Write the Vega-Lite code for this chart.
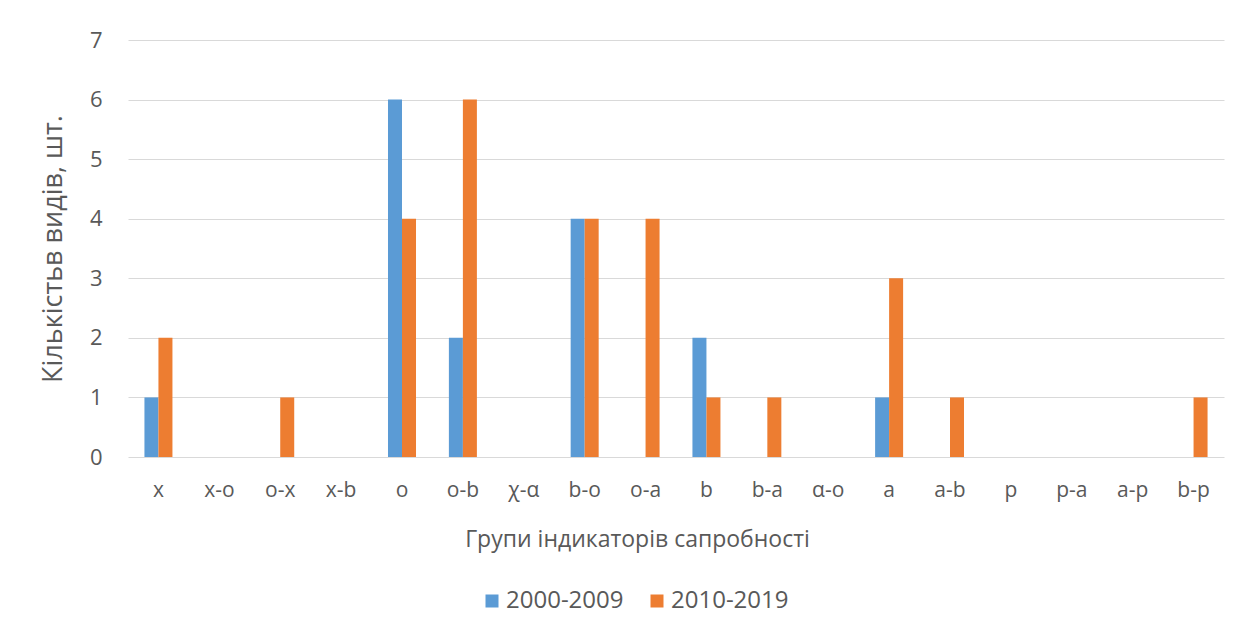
{
  "$schema": "https://vega.github.io/schema/vega-lite/v6.json",
  "width": 1096,
  "height": 417,
  "padding": {"left": 128, "top": 40, "right": 32, "bottom": 179},
  "autosize": {"type": "none"},
  "background": "white",
  "config": {
    "font": "Open Sans",
    "view": {"stroke": null},
    "axis": {"labelColor": "#595959", "titleColor": "#595959", "titleFontWeight": "normal"},
    "legend": {"labelColor": "#595959"}
  },
  "data": {
    "values": [
      {"group": "x", "period": "2000-2009", "count": 1},
      {"group": "x", "period": "2010-2019", "count": 2},
      {"group": "x-o", "period": "2000-2009", "count": 0},
      {"group": "x-o", "period": "2010-2019", "count": 0},
      {"group": "o-x", "period": "2000-2009", "count": 0},
      {"group": "o-x", "period": "2010-2019", "count": 1},
      {"group": "x-b", "period": "2000-2009", "count": 0},
      {"group": "x-b", "period": "2010-2019", "count": 0},
      {"group": "o", "period": "2000-2009", "count": 6},
      {"group": "o", "period": "2010-2019", "count": 4},
      {"group": "o-b", "period": "2000-2009", "count": 2},
      {"group": "o-b", "period": "2010-2019", "count": 6},
      {"group": "χ-α", "period": "2000-2009", "count": 0},
      {"group": "χ-α", "period": "2010-2019", "count": 0},
      {"group": "b-o", "period": "2000-2009", "count": 4},
      {"group": "b-o", "period": "2010-2019", "count": 4},
      {"group": "o-a", "period": "2000-2009", "count": 0},
      {"group": "o-a", "period": "2010-2019", "count": 4},
      {"group": "b", "period": "2000-2009", "count": 2},
      {"group": "b", "period": "2010-2019", "count": 1},
      {"group": "b-a", "period": "2000-2009", "count": 0},
      {"group": "b-a", "period": "2010-2019", "count": 1},
      {"group": "α-o", "period": "2000-2009", "count": 0},
      {"group": "α-o", "period": "2010-2019", "count": 0},
      {"group": "a", "period": "2000-2009", "count": 1},
      {"group": "a", "period": "2010-2019", "count": 3},
      {"group": "a-b", "period": "2000-2009", "count": 0},
      {"group": "a-b", "period": "2010-2019", "count": 1},
      {"group": "p", "period": "2000-2009", "count": 0},
      {"group": "p", "period": "2010-2019", "count": 0},
      {"group": "p-a", "period": "2000-2009", "count": 0},
      {"group": "p-a", "period": "2010-2019", "count": 0},
      {"group": "a-p", "period": "2000-2009", "count": 0},
      {"group": "a-p", "period": "2010-2019", "count": 0},
      {"group": "b-p", "period": "2000-2009", "count": 0},
      {"group": "b-p", "period": "2010-2019", "count": 1}
    ]
  },
  "mark": {"type": "bar"},
  "encoding": {
    "x": {
      "field": "group",
      "type": "nominal",
      "sort": null,
      "scale": {"paddingInner": 0.54, "paddingOuter": 0.27},
      "axis": {
        "title": "Групи індикаторів сапробності",
        "titleFontSize": 23,
        "titlePadding": 28,
        "titleX": 509,
        "titleAlign": "center",
        "labelFontSize": 21,
        "labelAngle": 0,
        "labelPadding": 22,
        "ticks": false,
        "domain": false,
        "grid": false
      }
    },
    "xOffset": {"field": "period", "type": "nominal"},
    "y": {
      "field": "count",
      "type": "quantitative",
      "scale": {"domain": [0, 7], "nice": false},
      "axis": {
        "title": "Кількістьв видів, шт.",
        "titleFontSize": 27,
        "titlePadding": 22,
        "labelFontSize": 22,
        "labelPadding": 26,
        "labelOverlap": false,
        "values": [0, 1, 2, 3, 4, 5, 6, 7],
        "ticks": false,
        "domain": false,
        "gridColor": "#d9d9d9",
        "gridWidth": 1
      }
    },
    "color": {
      "field": "period",
      "type": "nominal",
      "scale": {"domain": ["2000-2009", "2010-2019"], "range": ["#5B9BD5", "#ED7D31"]},
      "legend": {
        "title": null,
        "orient": "none",
        "direction": "horizontal",
        "legendX": 352,
        "legendY": 549,
        "symbolType": "square",
        "symbolSize": 169,
        "symbolStrokeWidth": 0,
        "labelFontSize": 24,
        "columnPadding": 21,
        "symbolOffset": 0,
        "labelOffset": 2
      }
    }
  }
}
